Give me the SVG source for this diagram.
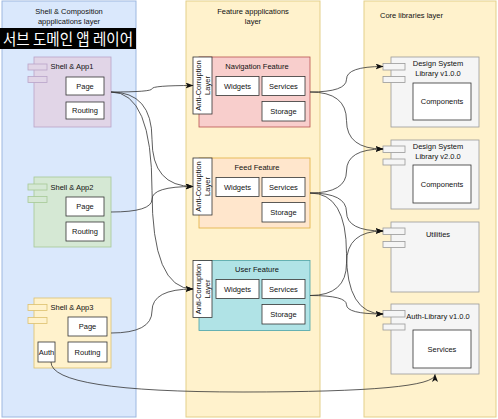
<svg xmlns="http://www.w3.org/2000/svg" width="498" height="419" viewBox="0 0 498 419">
<defs>
<style>
text{font-family:"Liberation Sans",Arial,sans-serif;font-size:7.5px;fill:#111}
.c{text-anchor:middle}
.w{fill:#fff;stroke:#333;stroke-width:0.8}
.blue{fill:#dae8fc;stroke:#9db8e0;stroke-width:1}
.yl{fill:#fff2cc;stroke:#e3cf8a;stroke-width:1}
.purple{fill:#e1d5e7;stroke:#b9a3c9;stroke-width:0.8}
.green{fill:#d5e8d4;stroke:#a6c996;stroke-width:0.8}
.yel{fill:#fff2cc;stroke:#dcc06e;stroke-width:0.8}
.pink{fill:#f8cecc;stroke:#b85450;stroke-width:0.8}
.orange{fill:#ffe6cc;stroke:#e0b040;stroke-width:0.8}
.teal{fill:#b0e3e6;stroke:#4aa3a8;stroke-width:0.8}
.gray{fill:#f5f5f5;stroke:#9a9a9a;stroke-width:0.8}
.e{fill:none;stroke:#333;stroke-width:0.8;marker-end:url(#arr)}
</style>
<marker id="arr" viewBox="0 0 8 6" refX="7.5" refY="3" markerWidth="8" markerHeight="6" markerUnits="userSpaceOnUse" orient="auto">
<path d="M0,0 L8,3 L0,6 L2,3 Z" fill="#111"/>
</marker>
</defs>

<g id="layer-shell">
<rect class="blue" x="2" y="1" width="134" height="416"/>
<text class="c" x="69" y="13.5">Shell &amp; Composition</text>
<text class="c" x="69" y="23.5">appplications layer</text>
<rect x="0" y="28" width="136" height="21" fill="#000"/>
<text x="3" y="44.5" textLength="130" lengthAdjust="spacingAndGlyphs" style="font-family:'Noto Sans CJK KR',sans-serif;font-size:16px;fill:#fff">서브 도메인 앱 레이어</text>
</g>
<g id="layer-feature">
<rect class="yl" x="186" y="1" width="134" height="416"/>
<text class="c" x="253" y="13.5">Feature appplications</text>
<text class="c" x="253" y="23.5">layer</text>
</g>
<g id="layer-core">
<rect class="yl" x="364" y="1" width="132" height="416"/>
<text x="380" y="17.5">Core libraries layer</text>
</g>

<g id="shell-app1">
<rect class="purple" x="34" y="57" width="77" height="70"/>
<rect class="purple" x="28" y="64" width="19" height="6"/>
<rect class="purple" x="28" y="76.5" width="19" height="6"/>
<text class="c" x="72" y="69">Shell &amp; App1</text>
<rect class="w" x="66" y="77" width="38" height="18"/>
<text class="c" x="85" y="88.5">Page</text>
<rect class="w" x="66" y="102" width="38" height="17"/>
<text class="c" x="85" y="113">Routing</text>
</g>
<g id="shell-app2">
<rect class="green" x="34" y="177" width="77" height="70"/>
<rect class="green" x="28" y="184" width="19" height="6"/>
<rect class="green" x="28" y="196.5" width="19" height="6"/>
<text class="c" x="72" y="189.5">Shell &amp; App2</text>
<rect class="w" x="66" y="197" width="38" height="19"/>
<text class="c" x="85" y="209">Page</text>
<rect class="w" x="66" y="222" width="38" height="19"/>
<text class="c" x="85" y="234">Routing</text>
</g>
<g id="shell-app3">
<rect class="yel" x="34" y="298" width="77" height="70"/>
<rect class="yel" x="28" y="304.5" width="19" height="6"/>
<rect class="yel" x="28" y="317.5" width="19" height="6"/>
<text class="c" x="72" y="310">Shell &amp; App3</text>
<rect class="w" x="68" y="317" width="39" height="19"/>
<text class="c" x="87.5" y="329">Page</text>
<rect class="w" x="38" y="342" width="17" height="20"/>
<text class="c" x="46.5" y="354.5">Auth</text>
<rect class="w" x="68" y="342" width="39" height="20"/>
<text class="c" x="87.5" y="354.5">Routing</text>
</g>

<g id="nav-feature">
<rect class="pink" x="199" y="57" width="111" height="70"/>
<text class="c" x="257" y="68.5">Navigation Feature</text>
<rect class="w" x="216" y="76.5" width="43" height="19"/>
<text class="c" x="237.5" y="88.5">Widgets</text>
<rect class="w" x="262" y="76.5" width="43" height="19"/>
<text class="c" x="283.5" y="88.5">Services</text>
<rect class="w" x="262" y="101.5" width="43" height="19.5"/>
<text class="c" x="283.5" y="113.5">Storage</text>
<rect class="w" x="193" y="57" width="19" height="57"/>
<text class="c" transform="translate(202.5,85.5) rotate(-90)"><tspan x="0" y="-2">Anti-Corruption</tspan><tspan x="0" y="7.5">Layer</tspan></text>
</g>
<g id="feed-feature">
<rect class="orange" x="199" y="158" width="111" height="70"/>
<text class="c" x="257" y="170">Feed Feature</text>
<rect class="w" x="216" y="177.5" width="43" height="19"/>
<text class="c" x="237.5" y="189.5">Widgets</text>
<rect class="w" x="262" y="177.5" width="43" height="19"/>
<text class="c" x="283.5" y="189.5">Services</text>
<rect class="w" x="262" y="202.5" width="43" height="19.5"/>
<text class="c" x="283.5" y="214.5">Storage</text>
<rect class="w" x="193" y="158" width="19" height="57"/>
<text class="c" transform="translate(202.5,186.5) rotate(-90)"><tspan x="0" y="-2">Anti-Corruption</tspan><tspan x="0" y="7.5">Layer</tspan></text>
</g>
<g id="user-feature">
<rect class="teal" x="199" y="260.5" width="111" height="70"/>
<text class="c" x="257" y="272">User Feature</text>
<rect class="w" x="216" y="279.5" width="43" height="19"/>
<text class="c" x="237.5" y="291.5">Widgets</text>
<rect class="w" x="262" y="279.5" width="43" height="19"/>
<text class="c" x="283.5" y="291.5">Services</text>
<rect class="w" x="262" y="304.5" width="43" height="19.5"/>
<text class="c" x="283.5" y="316.5">Storage</text>
<rect class="w" x="193" y="260.5" width="19" height="57"/>
<text class="c" transform="translate(202.5,289) rotate(-90)"><tspan x="0" y="-2">Anti-Corruption</tspan><tspan x="0" y="7.5">Layer</tspan></text>
</g>

<g id="ds-lib-v1">
<rect class="gray" x="391" y="57" width="88" height="70"/>
<rect class="gray" x="383" y="63.5" width="22" height="6.5"/>
<rect class="gray" x="383" y="76.5" width="22" height="6"/>
<text class="c" x="438" y="66">Design System</text>
<text class="c" x="438" y="75.5">Library v1.0.0</text>
<rect class="w" x="413" y="83" width="58" height="37"/>
<text class="c" x="442" y="104">Components</text>
</g>
<g id="ds-lib-v2">
<rect class="gray" x="391" y="140" width="88" height="69"/>
<rect class="gray" x="383" y="146" width="22" height="6.5"/>
<rect class="gray" x="383" y="159" width="22" height="6"/>
<text class="c" x="438" y="149">Design System</text>
<text class="c" x="438" y="158.5">Library v2.0.0</text>
<rect class="w" x="413" y="165" width="58" height="38"/>
<text class="c" x="442" y="186.5">Components</text>
</g>
<g id="utilities">
<rect class="gray" x="391" y="222" width="88" height="70"/>
<rect class="gray" x="383" y="228" width="22" height="6.5"/>
<rect class="gray" x="383" y="241.5" width="22" height="6"/>
<text class="c" x="438" y="236.5">Utilities</text>
</g>
<g id="auth-lib">
<rect class="gray" x="391" y="304" width="88" height="70"/>
<rect class="gray" x="383" y="310.5" width="22" height="6.5"/>
<rect class="gray" x="383" y="324" width="22" height="6"/>
<text class="c" x="438" y="318.5">Auth-Library v1.0.0</text>
<rect class="w" x="413" y="330" width="58" height="38"/>
<text class="c" x="442" y="351.5">Services</text>
</g>

<g id="connectors">
<path class="e" d="M111,92 Q152,92 152,88.75 Q152,85.5 193,85.5"/>
<path class="e" d="M111,92 Q152,92 152,139.25 Q152,186.5 193,186.5"/>
<path class="e" d="M111,92 Q152,92 152,190.5 Q152,289 193,289"/>
<path class="e" d="M111,212 Q152,212 152,199.25 Q152,186.5 193,186.5"/>
<path class="e" d="M111,333 Q152,333 152,311 Q152,289 193,289"/>
<path class="e" d="M51,362 Q51,392 243,392 Q435,392 435,374.5"/>
<path class="e" d="M310,92 Q346.5,92 346.5,79.25 Q346.5,66.5 383,66.5"/>
<path class="e" d="M310,92 Q346.5,92 346.5,120.5 Q346.5,149 383,149"/>
<path class="e" d="M310,193 Q346.5,193 346.5,171 Q346.5,149 383,149"/>
<path class="e" d="M310,193 Q346.5,193 346.5,212 Q346.5,231 383,231"/>
<path class="e" d="M310,193 Q346.5,193 346.5,253.5 Q346.5,314 383,314"/>
<path class="e" d="M310,295.5 Q346.5,295.5 346.5,263.25 Q346.5,231 383,231"/>
<path class="e" d="M310,295.5 Q346.5,295.5 346.5,304.75 Q346.5,314 383,314"/>
</g>
</svg>
